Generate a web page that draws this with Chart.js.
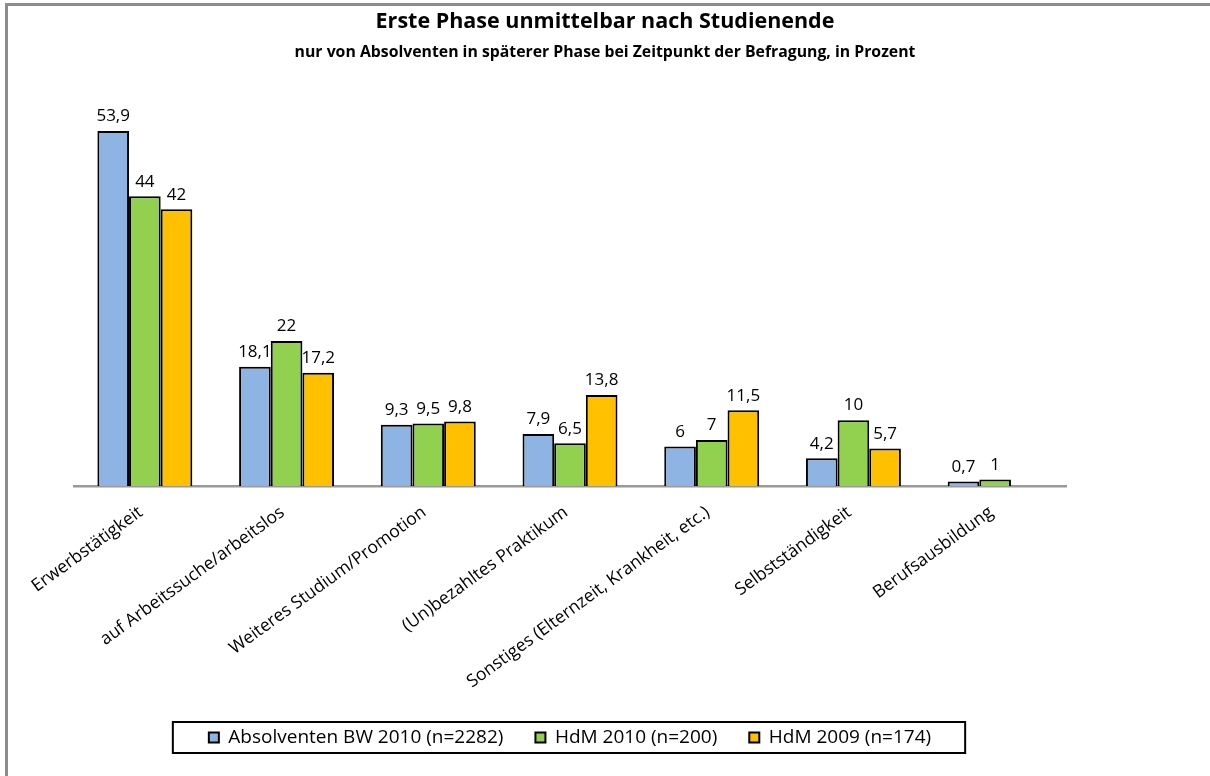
<!DOCTYPE html>
<html lang="de">
<head>
<meta charset="utf-8">
<title>Erste Phase unmittelbar nach Studienende</title>
<script src="https://cdn.jsdelivr.net/npm/chart.js@4/dist/chart.umd.min.js"></script>
<style>
  html, body { margin: 0; padding: 0; background: #fff; }
  #wrap { position: relative; width: 1210px; height: 776px; }
  #frame {
    position: absolute; left: 5px; top: 3px; right: 0; bottom: 0;
    border-top: 3px solid #8c8c8c; border-left: 3px solid #8c8c8c;
    pointer-events: none;
  }
  canvas { position: absolute; left: 0; top: 0; }
</style>
</head>
<body>
<div id="wrap">
  <canvas id="phaseChart" width="1210" height="776"></canvas>
  <div id="frame"></div>
</div>
<script>
// Kategorien und Werte (in Prozent)
var kategorien = [
    'Erwerbstätigkeit',
    'auf Arbeitssuche/arbeitslos',
    'Weiteres Studium/Promotion',
    '(Un)bezahltes Praktikum',
    'Sonstiges (Elternzeit, Krankheit, etc.)',
    'Selbstständigkeit',
    'Berufsausbildung'
];
var absolventenBW2010 = [53.9, 18.1, 9.3, 7.9, 6, 4.2, 0.7];
var hdm2010 = [44, 22, 9.5, 6.5, 7, 10, 1];
var hdm2009 = [42, 17.2, 9.8, 13.8, 11.5, 5.7, null];

var serienNamen = [
    'Absolventen BW 2010 (n=2282)',
    'HdM 2010 (n=200)',
    'HdM 2009 (n=174)'
];
var farben = ['#8eb4e3', '#92d050', '#ffc000'];

var schrift = "'Open Sans', 'Noto Sans', sans-serif";

// Zahlen mit deutschem Dezimalkomma
function formatWert(v) {
    return String(v).replace('.', ',');
}

// Werte über den Balken schreiben
var wertePlugin = {
    id: 'werteLabels',
    afterDatasetsDraw: function (chart) {
        var ctx = chart.ctx;
        ctx.save();
        ctx.font = '17px ' + schrift;
        ctx.fillStyle = '#000';
        ctx.textAlign = 'center';
        ctx.textBaseline = 'bottom';
        chart.data.datasets.forEach(function (ds, i) {
            var meta = chart.getDatasetMeta(i);
            meta.data.forEach(function (bar, j) {
                var v = ds.data[j];
                if (v === null || v === undefined) return;
                ctx.fillText(formatWert(v), bar.x, bar.y - 6);
            });
        });
        ctx.restore();
    }
};

// Rahmen um die Legende
var legendenRahmen = {
    id: 'legendenRahmen',
    afterDraw: function (chart) {
        var boxes = chart.legend && chart.legend.legendHitBoxes;
        if (!boxes || !boxes.length) return;
        var first = boxes[0];
        var last = boxes[boxes.length - 1];
        var left = first.left - 36;
        var right = last.left + last.width + 34;
        var mitte = first.top + first.height / 2;
        var ctx = chart.ctx;
        ctx.save();
        ctx.strokeStyle = '#000';
        ctx.lineWidth = 2;
        ctx.strokeRect(left, mitte - 15.5, right - left, 31);
        ctx.restore();
    }
};

var datensaetze = [absolventenBW2010, hdm2010, hdm2009].map(function (werte, i) {
    return {
        label: serienNamen[i],
        data: werte,
        backgroundColor: farben[i],
        borderColor: '#000',
        borderWidth: 2,
        borderSkipped: 'start',
        categoryPercentage: 0.67,
        barPercentage: 1.0
    };
});

var ctx = document.getElementById('phaseChart').getContext('2d');
new Chart(ctx, {
    type: 'bar',
    data: {
        labels: kategorien,
        datasets: datensaetze
    },
    options: {
        responsive: false,
        animation: false,
        layout: { padding: { top: 0, bottom: 19, left: 0, right: 0 } },
        plugins: {
            title: {
                display: true,
                text: 'Erste Phase unmittelbar nach Studienende',
                color: '#000',
                font: { family: schrift, size: 21.5, weight: 'bold', lineHeight: 1.2 },
                padding: { top: 9, bottom: 6 }
            },
            subtitle: {
                display: true,
                text: 'nur von Absolventen in späterer Phase bei Zeitpunkt der Befragung, in Prozent',
                color: '#000',
                font: { family: schrift, size: 15.8, weight: 'bold', lineHeight: 1.2 },
                padding: { top: 2.5, bottom: 28.5 }
            },
            legend: {
                position: 'bottom',
                fullSize: false,
                labels: {
                    color: '#000',
                    font: { family: schrift, size: 19 },
                    boxWidth: 10,
                    boxHeight: 10,
                    padding: 32
                }
            },
            tooltip: { enabled: false }
        },
        scales: {
            x: {
                grid: { display: false },
                border: { display: true, color: '#999', width: 2.5 },
                ticks: {
                    color: '#000',
                    font: { family: schrift, size: 17.5 },
                    minRotation: 36,
                    maxRotation: 36,
                    autoSkip: false,
                    padding: 8,
                    labelOffset: -4
                },
                afterFit: function (scale) { scale.height = 210; }
            },
            y: {
                min: 0,
                max: 60,
                grid: { display: false },
                border: { display: false },
                ticks: { display: false },
                afterFit: function (scale) { scale.width = 74; }
            },
            yRechts: {
                position: 'right',
                min: 0,
                max: 60,
                grid: { display: false },
                border: { display: false },
                ticks: { display: false },
                afterFit: function (scale) { scale.width = 144; }
            }
        }
    },
    plugins: [wertePlugin, legendenRahmen]
});
</script>
</body>
</html>
